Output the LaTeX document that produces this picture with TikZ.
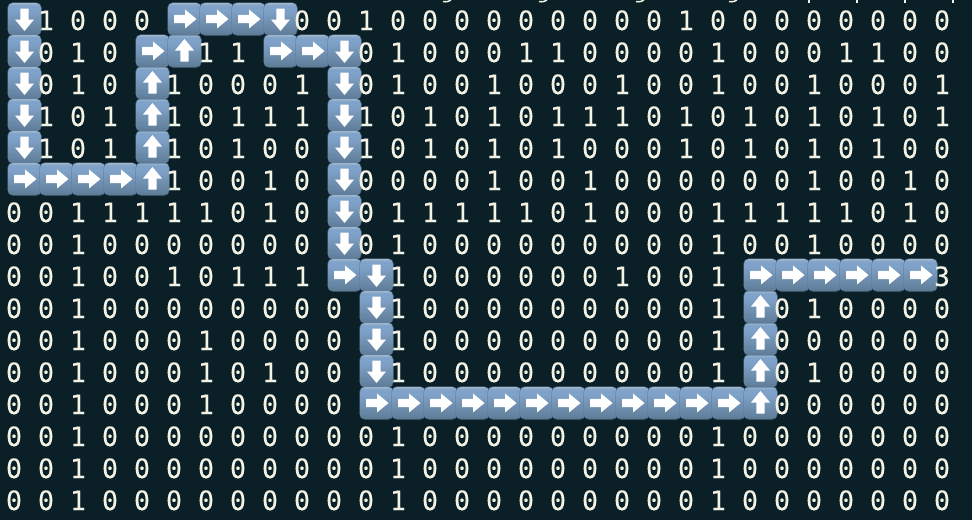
\documentclass[tikz,border=0pt]{standalone}
\usepackage{fontspec}
\newfontfamily\gridfont[FakeBold=0.15]{DejaVu Sans Mono}
\definecolor{gridbg}{HTML}{0A2026}
\definecolor{digitink}{HTML}{F2F2E6}
\definecolor{tileedge}{HTML}{5A7793}
\definecolor{tilelow}{HTML}{64829F}
\definecolor{tilehigh}{HTML}{7FA2C9}
\definecolor{tilerim}{HTML}{A3B9D0}
\pgfdeclareverticalshading{tilefill}{100bp}{
  color(0bp)=(tileedge); color(25bp)=(tileedge); color(31bp)=(tilelow);
  color(64bp)=(tilehigh); color(71bp)=(tilehigh); color(75bp)=(tilerim); color(100bp)=(tilerim)}
\tikzset{
  digit/.style={anchor=base, inner sep=0pt, text=digitink, font=\gridfont\fontsize{26.6}{32}\selectfont},
  tilebox/.style={minimum width=33.5pt, minimum height=32.5pt, inner sep=0pt, rounded corners=5pt,
    draw=tileedge, line width=0.4pt, shade, shading=tilefill}
}
\newcommand{\arrowtile}[3]{%
  \node[tilebox] (tile-#1-#2) at (24.5+32*#1,19+32*#2) {};
  \fill[white, shift={(tile-#1-#2.center)}, rotate=#3]
    (-10.5,-4.2) -- (0.5,-4.2) -- (0.5,-9.5) -- (12,0) -- (0.5,9.5) -- (0.5,4.2) -- (-10.5,4.2) -- cycle;
}

\begin{document}
\begin{tikzpicture}[x=1pt,y=-1pt]
  % Background
  \fill[gridbg] (0,0) rectangle (972,520);
  \useasboundingbox (0,0) rectangle (972,520);

  % Cut-off line above the first row
  \foreach \x in {447,543,640,733}
    \draw[digitink, line width=1.5pt] (\x-4,1.5) .. controls (\x,2) .. (\x+4,0);
  \foreach \x in {809,857,905,953}
    \draw[digitink, line width=1.2pt] (\x,0) -- (\x,2.5);

  % Path of arrows: right 0, up 90, down -90
  \foreach \x/\y/\dir in {0/0/-90,0/1/-90,0/2/-90,0/3/-90,0/4/-90,
      0/5/0,1/5/0,2/5/0,3/5/0,4/5/90,4/4/90,4/3/90,4/2/90,4/1/0,5/1/90,
      5/0/0,6/0/0,7/0/0,8/0/-90,8/1/0,9/1/0,10/1/-90,10/2/-90,10/3/-90,
      10/4/-90,10/5/-90,10/6/-90,10/7/-90,10/8/0,11/8/-90,11/9/-90,
      11/10/-90,11/11/-90,11/12/0,12/12/0,13/12/0,14/12/0,15/12/0,16/12/0,
      17/12/0,18/12/0,19/12/0,20/12/0,21/12/0,22/12/0,23/12/90,23/11/90,
      23/10/90,23/9/90,23/8/0,24/8/0,25/8/0,26/8/0,27/8/0,28/8/0} {
    \arrowtile{\x}{\y}{\dir}
  }

  % Digits, a dash where a tile sits
  \foreach \y/\vals in {
      0/{-,1,0,0,0,-,-,-,-,0,0,1,0,0,0,0,0,0,0,0,0,1,0,0,0,0,0,0,0,0},
      1/{-,0,1,0,-,-,1,1,-,-,-,0,1,0,0,0,1,1,0,0,0,0,1,0,0,0,1,1,0,0},
      2/{-,0,1,0,-,1,0,0,0,1,-,0,1,0,0,1,0,0,0,1,0,0,1,0,0,1,0,0,0,1},
      3/{-,1,0,1,-,1,0,1,1,1,-,1,0,1,0,1,0,1,1,1,0,1,0,1,0,1,0,1,0,1},
      4/{-,1,0,1,-,1,0,1,0,0,-,1,0,1,0,1,0,1,0,0,0,1,0,1,0,1,0,1,0,0},
      5/{-,-,-,-,-,1,0,0,1,0,-,0,0,0,0,1,0,0,1,0,0,0,0,0,0,1,0,0,1,0},
      6/{0,0,1,1,1,1,1,0,1,0,-,0,1,1,1,1,1,0,1,0,0,0,1,1,1,1,1,0,1,0},
      7/{0,0,1,0,0,0,0,0,0,0,-,0,1,0,0,0,0,0,0,0,0,0,1,0,0,1,0,0,0,0},
      8/{0,0,1,0,0,1,0,1,1,1,-,-,1,0,0,0,0,0,0,1,0,0,1,-,-,-,-,-,-,3},
      9/{0,0,1,0,0,0,0,0,0,0,0,-,1,0,0,0,0,0,0,0,0,0,1,-,0,1,0,0,0,0},
      10/{0,0,1,0,0,0,1,0,0,0,0,-,1,0,0,0,0,0,0,0,0,0,1,-,0,0,0,0,0,0},
      11/{0,0,1,0,0,0,1,0,1,0,0,-,1,0,0,0,0,0,0,0,0,0,1,-,0,1,0,0,0,0},
      12/{0,0,1,0,0,0,1,0,0,0,0,-,-,-,-,-,-,-,-,-,-,-,-,-,0,0,0,0,0,0},
      13/{0,0,1,0,0,0,0,0,0,0,0,0,1,0,0,0,0,0,0,0,0,0,1,0,0,0,0,0,0,0},
      14/{0,0,1,0,0,0,0,0,0,0,0,0,1,0,0,0,0,0,0,0,0,0,1,0,0,0,0,0,0,0},
      15/{0,0,1,0,0,0,0,0,0,0,0,0,1,0,0,0,0,0,0,0,0,0,1,0,0,0,0,0,0,0}}
    \foreach \val [count=\x from 0] in \vals {
      \if\val-\else
        \node[digit] (cell-\x-\y) at (14+32*\x,30+32*\y) {\val};
      \fi
    };
\end{tikzpicture}
\end{document}
